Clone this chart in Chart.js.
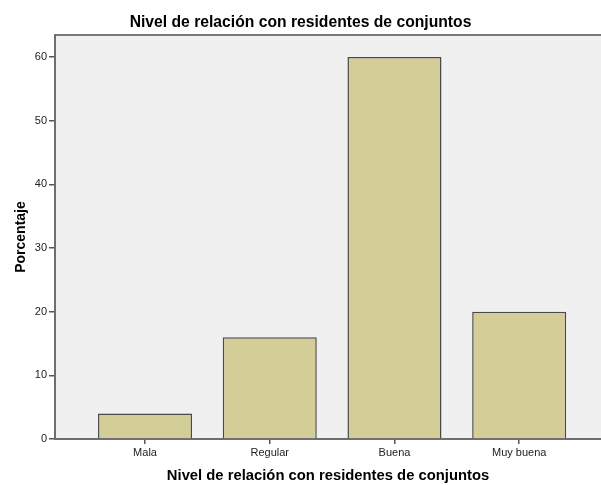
<!DOCTYPE html>
<html>
<head>
<meta charset="utf-8">
<script src="https://cdn.jsdelivr.net/npm/chart.js@4"></script>
<style>
  html, body { margin: 0; padding: 0; background: #fff; }
  #wrap { width: 601px; height: 485px; }
</style>
</head>
<body>
<div id="wrap"><canvas id="nivelChart"></canvas></div>
<script>
const categories = ['Mala', 'Regular', 'Buena', 'Muy buena'];
const porcentaje = [4, 16, 60, 20];
const yTicks = [0, 10, 20, 30, 40, 50, 60];

// gray plot background + top frame line, like the SPSS output
const plotBackground = {
    id: 'plotBackground',
    beforeDraw(chart) {
        const a = chart.chartArea;
        const c = chart.ctx;
        c.save();
        c.fillStyle = '#f0f0f0';
        c.fillRect(a.left, a.top, a.right - a.left, a.bottom - a.top);
        c.strokeStyle = '#7a7a7a';
        c.lineWidth = 2;
        c.beginPath();
        c.moveTo(a.left, a.top);
        c.lineTo(a.right, a.top);
        c.stroke();
        c.restore();
    }
};

Chart.defaults.font.family = '"Liberation Sans", Arial, sans-serif';
Chart.defaults.color = '#222';

const ctx = document.getElementById('nivelChart');
new Chart(ctx, {
    type: 'bar',
    data: {
        datasets: [{
            label: 'Porcentaje',
            data: porcentaje.map((v, i) => ({ x: i, y: v })),
            backgroundColor: '#d3ce98',
            borderColor: '#4a4a4a',
            borderWidth: 1.5,
            categoryPercentage: 1,
            barPercentage: 0.754
        }]
    },
    options: {
        responsive: true,
        maintainAspectRatio: false,
        animation: false,
        layout: { padding: 0 },
        plugins: {
            legend: { display: false },
            tooltip: { enabled: false },
            title: {
                display: true,
                text: 'Nivel de relación con residentes de conjuntos',
                color: '#000',
                font: { size: 15.7, weight: 'bold' },
                padding: { top: 13, bottom: 3.2 }
            }
        },
        scales: {
            x: {
                type: 'linear',
                offset: false,
                min: -0.722,
                max: 3.656,
                afterBuildTicks: (scale) => {
                    scale.ticks = categories.map((c, i) => ({ value: i }));
                },
                afterFit: (scale) => { scale.height = 46; },
                ticks: {
                    callback: (value) => categories[value],
                    font: { size: 11 },
                    color: '#222',
                    padding: 2,
                    maxRotation: 0
                },
                grid: {
                    offset: false,
                    drawOnChartArea: false,
                    drawTicks: true,
                    tickLength: 5,
                    color: '#555',
                    lineWidth: 1.5
                },
                border: { display: true, color: '#6e6e6e', width: 2 },
                title: {
                    display: true,
                    text: 'Nivel de relación con residentes de conjuntos',
                    color: '#000',
                    font: { size: 14.8, weight: 'bold' },
                    padding: { top: 0, bottom: 0.5 }
                }
            },
            y: {
                min: 0,
                max: 63.45,
                afterBuildTicks: (scale) => {
                    scale.ticks = yTicks.map(v => ({ value: v }));
                },
                afterFit: (scale) => { scale.width = 55; },
                ticks: {
                    font: { size: 11 },
                    color: '#222',
                    padding: 2
                },
                grid: {
                    drawOnChartArea: false,
                    drawTicks: true,
                    tickLength: 6,
                    color: '#555',
                    lineWidth: 1.5
                },
                border: { display: true, color: '#6e6e6e', width: 2 },
                title: {
                    display: true,
                    text: 'Porcentaje',
                    color: '#000',
                    font: { size: 14, weight: 'bold' },
                    padding: { top: 13, bottom: 0 }
                }
            }
        }
    },
    plugins: [plotBackground]
});
</script>
</body>
</html>
